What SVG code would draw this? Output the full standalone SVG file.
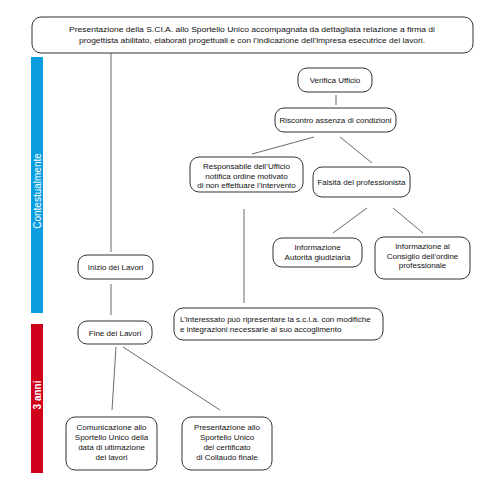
<svg xmlns="http://www.w3.org/2000/svg" width="500" height="480" viewBox="0 0 500 480">
<style>
.box{fill:#fff;stroke:#333;stroke-width:1}
.t{font-family:"Liberation Sans","Open Sans",sans-serif;font-size:8px;fill:#111;text-anchor:middle}
.ln{stroke:#444;stroke-width:0.8;fill:none}
.bar{font-family:"Liberation Sans","Open Sans",sans-serif;font-size:10px;fill:#fff;text-anchor:middle}
</style>
<rect x="0" y="0" width="500" height="480" fill="#fff"/>
<rect x="31" y="57" width="12" height="256" fill="#0a9ee0"/>
<rect x="31" y="324" width="12" height="149" fill="#d0021b"/>
<text class="bar" transform="translate(40.5,191) rotate(-90)">Contestualmente</text>
<text class="bar" font-weight="bold" transform="translate(40.5,395) rotate(-90)">3 anni</text>
<g id="connectors">
<line class="ln" x1="111" y1="53" x2="111" y2="252"/>
<line class="ln" x1="111" y1="284" x2="111" y2="315"/>
<line class="ln" x1="336" y1="95" x2="336" y2="105"/>
<line class="ln" x1="314" y1="137" x2="252" y2="154"/>
<line class="ln" x1="340" y1="137" x2="372" y2="163"/>
<line class="ln" x1="244" y1="209" x2="244" y2="303"/>
<line class="ln" x1="367" y1="208" x2="333" y2="233"/>
<line class="ln" x1="393" y1="208" x2="423" y2="233"/>
<line class="ln" x1="116" y1="347" x2="112" y2="410"/>
<line class="ln" x1="123" y1="347" x2="220" y2="410"/>
</g>
<g id="n-top">
<rect class="box" x="32" y="17" width="441" height="36" rx="9"/>
<text class="t" x="252" y="32" textLength="366" lengthAdjust="spacingAndGlyphs">Presentazione della S.CI.A. allo Sportello Unico accompagnata da dettagliata relazione a firma di</text>
<text class="t" x="252" y="43" textLength="346" lengthAdjust="spacingAndGlyphs">progettista abilitato, elaborati progettuali e con l’indicazione dell’impresa esecutrice dei lavori.</text>
</g>
<g id="n-verifica">
<rect class="box" x="298" y="68" width="74" height="24" rx="9"/>
<text class="t" x="335" y="82.5">Verifica Ufficio</text>
</g>
<g id="n-riscontro">
<rect class="box" x="275" y="108" width="121" height="24" rx="9"/>
<text class="t" x="335.5" y="122.5">Riscontro assenza di condizioni</text>
</g>
<g id="n-responsabile">
<rect class="box" x="190" y="157" width="113" height="35" rx="9"/>
<text class="t" x="246.5" y="169">Responsabile dell’Ufficio</text>
<text class="t" x="246.5" y="178.5">notifica ordine motivato</text>
<text class="t" x="246.5" y="188">di non effettuare l’intervento</text>
</g>
<g id="n-falsita">
<rect class="box" x="313" y="167" width="97" height="30" rx="9"/>
<text class="t" x="361.5" y="185">Falsità del professionista</text>
</g>
<g id="n-autorita">
<rect class="box" x="273" y="238" width="89" height="29" rx="9"/>
<text class="t" x="317.5" y="250">Informazione</text>
<text class="t" x="317.5" y="259.5">Autorità giudiziaria</text>
</g>
<g id="n-consiglio">
<rect class="box" x="375" y="237" width="95" height="42" rx="9"/>
<text class="t" x="422.5" y="249">Informazione al</text>
<text class="t" x="422.5" y="258.5">Consiglio dell’ordine</text>
<text class="t" x="422.5" y="268">professionale</text>
</g>
<g id="n-inizio">
<rect class="box" x="78" y="255" width="75" height="24" rx="9"/>
<text class="t" x="115.5" y="270">Inizio dei Lavori</text>
</g>
<g id="n-interessato">
<rect class="box" x="174" y="308" width="209" height="32" rx="9"/>
<text class="t" x="180" y="321.5" style="text-anchor:start">L’interessato può ripresentare la s.c.i.a.  con modifiche</text>
<text class="t" x="180" y="331.5" style="text-anchor:start">e integrazioni necessarie al suo accoglimento</text>
</g>
<g id="n-fine">
<rect class="box" x="78" y="321" width="74" height="23" rx="9"/>
<text class="t" x="115" y="335.5">Fine dei Lavori</text>
</g>
<g id="n-comunicazione">
<rect class="box" x="66" y="417" width="91" height="53" rx="9"/>
<text class="t" x="111.5" y="430">Comunicazione allo</text>
<text class="t" x="111.5" y="440">Sportello Unico della</text>
<text class="t" x="111.5" y="450">data di ultimazione</text>
<text class="t" x="111.5" y="460">dei lavori</text>
</g>
<g id="n-collaudo">
<rect class="box" x="182" y="417" width="90" height="53" rx="9"/>
<text class="t" x="227" y="430">Presentazione  allo</text>
<text class="t" x="227" y="440">Sportello Unico</text>
<text class="t" x="227" y="450">del certificato</text>
<text class="t" x="227" y="460">di Collaudo finale</text>
</g>
</svg>
